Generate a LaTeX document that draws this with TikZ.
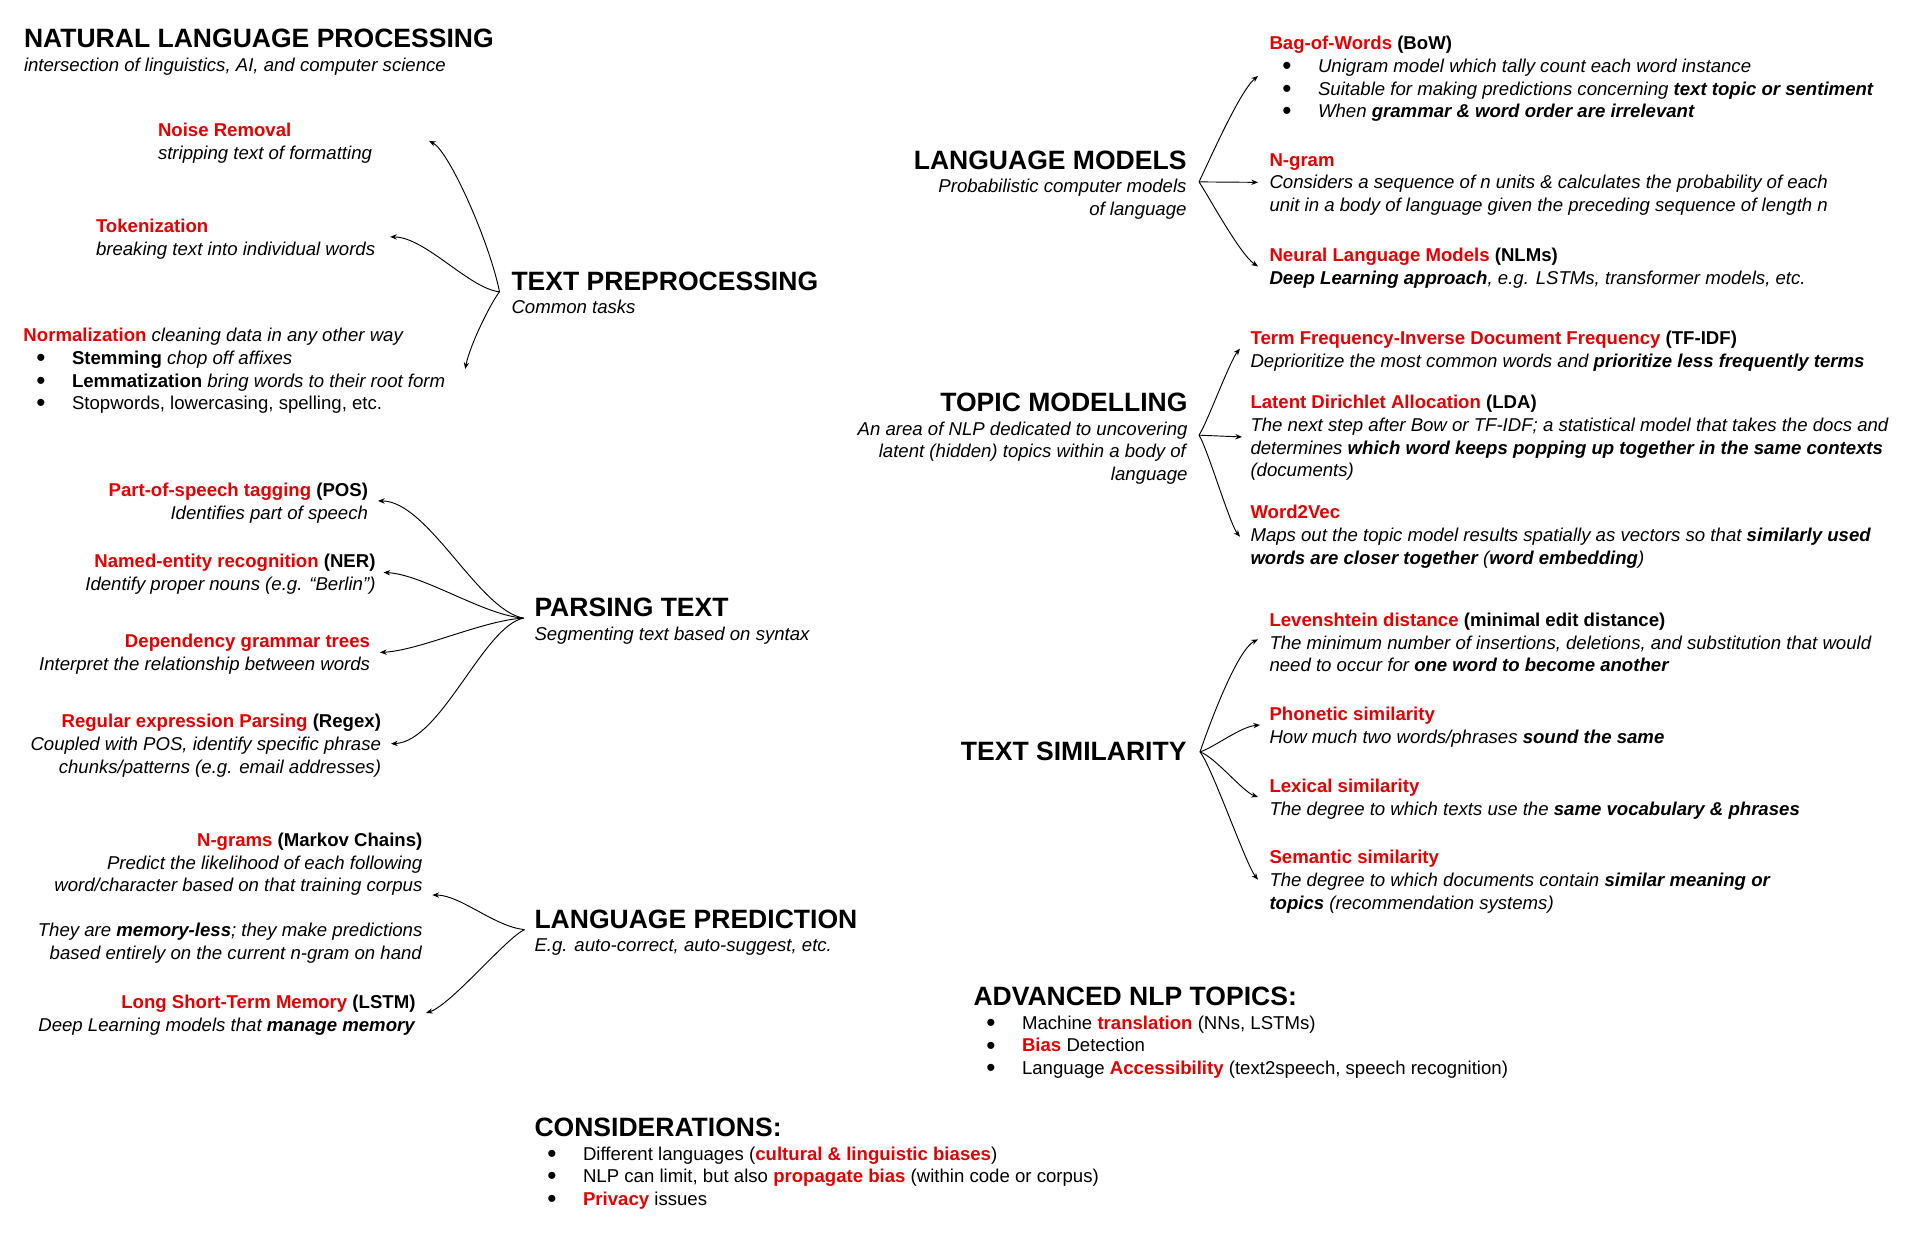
\documentclass[tikz,border=0pt]{standalone}
\usepackage{fontspec}
\setmainfont{Liberation Sans}
\usetikzlibrary{arrows.meta,calc}
\definecolor{nlpred}{RGB}{230,0,0}
\newcommand{\redb}[1]{\textcolor{nlpred}{\textbf{#1}}}
\newcommand{\headfont}{\fontsize{19.9}{24}\selectfont\bfseries}
\newcommand{\bodyfont}{\fontsize{13.95}{16.9}\selectfont}
\newcommand{\listdot}{\makebox[36.4pt][l]{\hspace*{9.6pt}\raisebox{-1.6pt}{\scalebox{1.4}{•}}}}

\begin{document}
\begin{tikzpicture}[x=0.75pt,y=0.75pt,yscale=-1,xscale=1,
  txt/.style={inner sep=0pt,outer sep=0pt,font=\bodyfont},
  lefttxt/.style={txt,anchor=north west,align=left},
  righttxt/.style={txt,anchor=north east,align=right},
  branch/.style={line width=0.7pt,-{Stealth[length=5pt,width=4pt]}}]
\path[use as bounding box,fill=white] (0,0) rectangle (1925,1239);

% Title
\node[lefttxt] (title) at (24,29) {{\headfont NATURAL LANGUAGE PROCESSING}\\[1pt]\textit{intersection of linguistics, AI, and computer science}};

% Text Preprocessing
\node[lefttxt] (tp) at (511.5,271.5) {{\headfont TEXT PREPROCESSING}\\[1pt]\textit{Common tasks}};
\node[lefttxt] (noise) at (158,123) {\redb{Noise Removal}\\\textit{stripping text of formatting}};
\node[lefttxt] (token) at (96,219) {\redb{Tokenization}\\\textit{breaking text into individual words}};
\node[lefttxt] (norm) at (23.5,328.5) {\redb{Normalization} \textit{cleaning data in any other way}\\
  \listdot\textbf{Stemming} \textit{chop off affixes}\\
  \listdot\textbf{Lemmatization} \textit{bring words to their root form}\\
  \listdot Stopwords, lowercasing, spelling, etc.};

\coordinate (tpHub) at ($(tp.west)+(-12,-1)$);
\draw[branch] (tpHub) .. controls +(-10,-50) and +(20,10) .. ($(noise.east)+(57,-2)$);
\draw[branch] (tpHub) .. controls +(-30,-3) and +(35,0) .. ($(token.east)+(15,-2)$);
\draw[branch] (tpHub) .. controls +(-8,10) and +(5,-25) .. ($(norm.east)+(20,-2)$);

% Parsing Text
\node[lefttxt] (pt) at (534.5,598) {{\headfont PARSING TEXT}\\[1pt]\textit{Segmenting text based on syntax}};
\node[righttxt] (pos) at (368,483) {\redb{Part-of-speech tagging} \textbf{(POS)}\\\textit{Identifies part of speech}};
\node[righttxt] (ner) at (375.5,554.5) {\redb{Named-entity recognition} \textbf{(NER)}\\\textit{Identify proper nouns (e.g. “Berlin”)}};
\node[righttxt] (dep) at (370,634.5) {\redb{Dependency grammar trees}\\\textit{Interpret the relationship between words}};
\node[righttxt] (regex) at (381,714.5) {\redb{Regular expression Parsing} \textbf{(Regex)}\\
  \textit{Coupled with POS, identify specific phrase}\\\textit{chunks/patterns (e.g. email addresses)}};

\coordinate (ptHub) at ($(pt.west)+(-11,-3)$);
\draw[branch] (ptHub) .. controls +(-45,-8) and +(50,0) .. ($(pos.east)+(10,-2)$);
\draw[branch] (ptHub) .. controls +(-40,-3) and +(40,2) .. ($(ner.east)+(8,-2)$);
\draw[branch] (ptHub) .. controls +(-40,2) and +(40,-2) .. ($(dep.east)+(10,-2)$);
\draw[branch] (ptHub) .. controls +(-40,8) and +(50,-2) .. ($(regex.east)+(10,-2)$);

% Language Prediction
\node[lefttxt] (lp) at (534.5,909.5) {{\headfont LANGUAGE PREDICTION}\\[1pt]\textit{E.g. auto-correct, auto-suggest, etc.}};
\node[righttxt] (ngrams) at (422.4,833) {\redb{N-grams} \textbf{(Markov Chains)}\\
  \textit{Predict the likelihood of each following}\\\textit{word/character based on that training corpus}\\[16.9pt]
  \textit{They are \textbf{memory-less}; they make predictions}\\\textit{based entirely on the current n-gram on hand}};
\node[righttxt] (lstm) at (415.5,995) {\redb{Long Short-Term Memory} \textbf{(LSTM)}\\\textit{Deep Learning models that \textbf{manage memory}}};

\coordinate (lpHub) at ($(lp.west)+(-10,-3)$);
\draw[branch] (lpHub) .. controls +(-30,-3) and +(28,0) .. ($(ngrams.east)+(10,-3)$);
\draw[branch] (lpHub) .. controls +(-18,8) and +(25,-8) .. ($(lstm.east)+(10.5,-2)$);

% Considerations
\node[lefttxt] (cons) at (534.5,1117.5) {{\headfont CONSIDERATIONS:}\\[1.3pt]
  \listdot Different languages (\redb{cultural \& linguistic biases})\\
  \listdot NLP can limit, but also \redb{propagate bias} (within code or corpus)\\
  \listdot\redb{Privacy} issues};

% Language Models
\node[righttxt] (lm) at (1186.5,150.5) {{\headfont LANGUAGE MODELS}\\[1pt]\textit{Probabilistic computer models}\\\textit{of language}};
\node[lefttxt] (bow) at (1269.5,36.5) {\redb{Bag-of-Words} \textbf{(BoW)}\\
  \listdot\textit{Unigram model which tally count each word instance}\\
  \listdot\textit{Suitable for making predictions concerning \textbf{text topic or sentiment}}\\
  \listdot\textit{When \textbf{grammar \& word order are irrelevant}}};
\node[lefttxt] (ngram) at (1269.5,153.5) {\redb{N-gram}\\
  \textit{Considers a sequence of n units \& calculates the probability of each}\\
  \textit{unit in a body of language given the preceding sequence of length n}};
\node[lefttxt] (nlm) at (1269.5,248) {\redb{Neural Language Models} \textbf{(NLMs)}\\
  \textit{\textbf{Deep Learning approach}, e.g. LSTMs, transformer models, etc.}};

\coordinate (lmHub) at ($(lm.east)+(12.5,-3)$);
\draw[branch] (lmHub) .. controls +(12,-25) and +(-18,15) .. ($(bow.west)+(-11.5,-3)$);
\draw[branch] (lmHub) -- ($(ngram.west)+(-11.5,-2)$);
\draw[branch] (lmHub) .. controls +(10,15) and +(-18,-12) .. ($(nlm.west)+(-11.5,-1.5)$);

% Topic Modelling
\node[righttxt] (tm) at (1187.5,393) {{\headfont TOPIC MODELLING}\\[1pt]\textit{An area of NLP dedicated to uncovering}\\
  \textit{latent (hidden) topics within a body of}\\\textit{language}};
\node[lefttxt] (tfidf) at (1250.5,331) {\redb{Term Frequency-Inverse Document Frequency} \textbf{(TF-IDF)}\\
  \textit{Deprioritize the most common words and \textbf{prioritize less frequently terms}}};
\node[lefttxt] (lda) at (1250.5,395.5) {\redb{Latent Dirichlet Allocation} \textbf{(LDA)}\\
  \textit{The next step after Bow or TF-IDF; a statistical model that takes the docs and}\\
  \textit{determines \textbf{which word keeps popping up together in the same contexts}}\\
  \textit{(documents)}};
\node[lefttxt] (w2v) at (1250.5,505.5) {\redb{Word2Vec}\\
  \textit{Maps out the topic model results spatially as vectors so that \textbf{similarly used}}\\
  \textit{\textbf{words are closer together} (\textbf{word embedding})}};

\coordinate (tmHub) at ($(tm.east)+(11.5,-3.5)$);
\draw[branch] (tmHub) .. controls +(8,-12) and +(-10,12) .. ($(tfidf.west)+(-10.5,-2.3)$);
\draw[branch] (tmHub) -- ($(lda.west)+(-8.5,-1)$);
\draw[branch] (tmHub) .. controls +(8,12) and +(-10,-12) .. ($(w2v.west)+(-10.5,0)$);

% Text Similarity
\node[righttxt] (ts) at (1186.5,741.5) {{\headfont TEXT SIMILARITY}};
\node[lefttxt] (lev) at (1269.5,613) {\redb{Levenshtein distance} \textbf{(minimal edit distance)}\\
  \textit{The minimum number of insertions, deletions, and substitution that would}\\
  \textit{need to occur for \textbf{one word to become another}}};
\node[lefttxt] (phon) at (1269.5,707) {\redb{Phonetic similarity}\\\textit{How much two words/phrases \textbf{sound the same}}};
\node[lefttxt] (lex) at (1269.5,779) {\redb{Lexical similarity}\\\textit{The degree to which texts use the \textbf{same vocabulary \& phrases}}};
\node[lefttxt] (sem) at (1269.5,850.5) {\redb{Semantic similarity}\\
  \textit{The degree to which documents contain \textbf{similar meaning or}}\\
  \textit{\textbf{topics} (recommendation systems)}};

\coordinate (tsHub) at ($(ts.east)+(13.5,1)$);
\draw[branch] (tsHub) .. controls +(12,-35) and +(-20,10) .. ($(lev.west)+(-11.5,-3)$);
\draw[branch] (tsHub) .. controls +(15,-5) and +(-20,2) .. ($(phon.west)+(-9.5,-2)$);
\draw[branch] (tsHub) .. controls +(15,5) and +(-15,-5) .. ($(lex.west)+(-11.5,-2)$);
\draw[branch] (tsHub) .. controls +(12,15) and +(-12,-15) .. ($(sem.west)+(-11.5,-2)$);

% Advanced topics
\node[lefttxt] (adv) at (973.5,986.5) {{\headfont ADVANCED NLP TOPICS:}\\[1.4pt]
  \listdot Machine \redb{translation} (NNs, LSTMs)\\
  \listdot\redb{Bias} Detection\\
  \listdot Language \redb{Accessibility} (text2speech, speech recognition)};
\end{tikzpicture}
\end{document}
